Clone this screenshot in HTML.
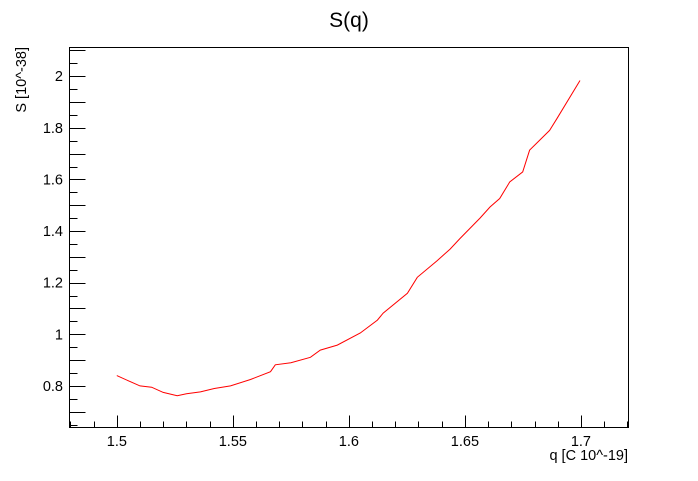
<!DOCTYPE html>
<html><head><meta charset="utf-8"><style>
html,body{margin:0;padding:0;background:#fff;}
svg text{font-family:"Liberation Sans",Arial,sans-serif;}
</style></head><body>
<svg id="chart" width="698" height="476" xmlns="http://www.w3.org/2000/svg">
<rect width="698" height="476" fill="#fff"/>
<text x="349" y="27" font-size="21" text-anchor="middle">S(q)</text>
<g id="axes"></g>
<path id="curve" fill="none" stroke="#ff0000" stroke-width="1"/>
<rect x="69.5" y="47.5" width="559" height="380" fill="none" stroke="#000" stroke-width="1"/>
<text x="628" y="460" font-size="14.5" text-anchor="end">q [C 10^-19]</text>
<text transform="translate(26,47) rotate(-90)" font-size="14.5" text-anchor="end">S [10^-38]</text>
</svg>
<script>
const qValues=[1.5,1.505,1.51,1.515,1.52,1.526,1.53,1.536,1.542,1.549,1.5576,1.5662,1.5683,1.575,1.5834,1.5877,1.595,1.6049,1.6123,1.6148,1.6252,1.6295,1.638,1.6436,1.6479,1.6565,1.6608,1.665,1.6693,1.6749,1.6779,1.6865,1.6896,1.6996];
const sValues=[0.84,0.82,0.8,0.795,0.775,0.762,0.77,0.777,0.79,0.8,0.825,0.855,0.882,0.89,0.911,0.939,0.958,1.005,1.055,1.082,1.159,1.221,1.285,1.33,1.371,1.45,1.493,1.526,1.59,1.629,1.713,1.79,1.835,1.983];
const xTickLabels=["1.5","1.55","1.6","1.65","1.7"];
const yTickLabels=["0.8","1","1.2","1.4","1.6","1.8","2"];
const X0=69.5,X1=628.5,Y0=427.5,Y1=47.5;
const xMin=1.4796,xMax=1.7205,yMin=0.639,yMax=2.111;
const xs=v=>X0+(v-xMin)/(xMax-xMin)*(X1-X0);
const ys=v=>Y0-(v-yMin)/(yMax-yMin)*(Y0-Y1);
const NS="http://www.w3.org/2000/svg";
const g=document.getElementById('axes');
function line(x1,y1,x2,y2,name){const l=document.createElementNS(NS,'line');
l.setAttribute('x1',x1);l.setAttribute('y1',y1);l.setAttribute('x2',x2);l.setAttribute('y2',y2);
l.setAttribute('stroke','#000');


g.appendChild(l);}
function text(x,y,s,anchor,name){const t=document.createElementNS(NS,'text');
t.setAttribute('x',x);t.setAttribute('y',y);t.setAttribute('font-size','14.5');t.setAttribute('text-anchor',anchor);t.textContent=s;


g.appendChild(t);}
for(let i=-2;i<=22;i++){const v=1.5+i*0.01;if(v<xMin||v>xMax)continue;const x=Math.round(xs(v))+0.5;
const major=(i%5===0);line(x,Y0,x,Y0-(major?12:6),major?'x-major-tick':'x-minor-tick');}
xTickLabels.forEach(s=>text(xs(parseFloat(s)),446,s,'middle','x-tick-label'));
for(let i=-4;i<=30;i++){const v=0.8+i*0.05;if(v<yMin||v>yMax)continue;const y=Math.round(ys(v))+0.5;
const major=(i%2===0);line(X0,y,X0+(major?16:8),y,major?'y-major-tick':'y-minor-tick');}
yTickLabels.forEach(s=>text(63,ys(parseFloat(s))+5,s,'end','y-tick-label'));
let d='';qValues.forEach((q,i)=>{d+=(i?'L':'M')+xs(q).toFixed(1)+','+ys(sValues[i]).toFixed(1);});
document.getElementById('curve').setAttribute('d',d);
</script>
</body></html>
